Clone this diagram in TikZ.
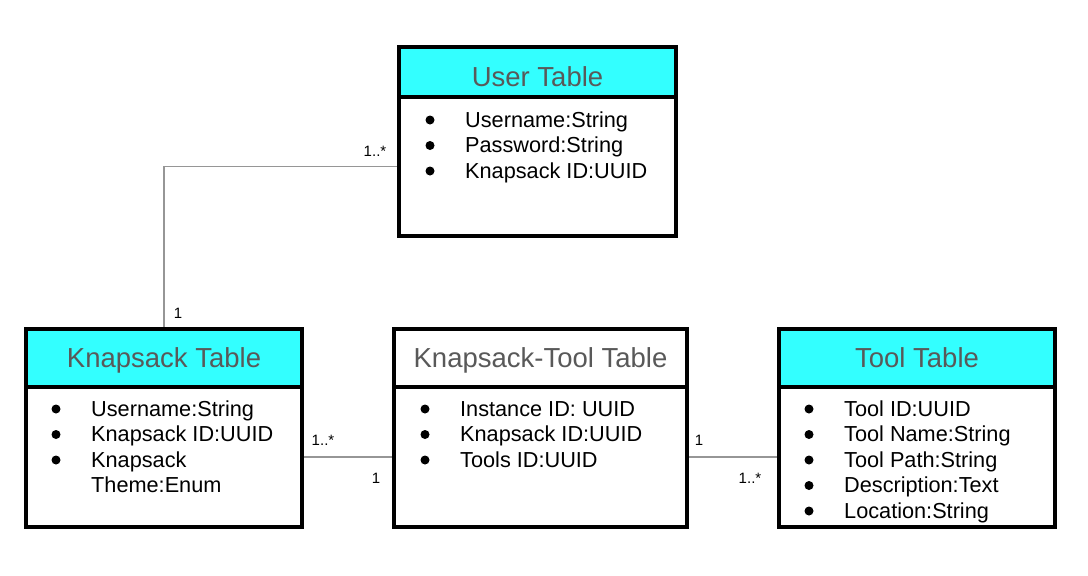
\documentclass[tikz,border=0pt]{standalone}
\usepackage{fontspec}
\setmainfont{Liberation Sans}
\definecolor{cyanh}{RGB}{51,255,255}
\definecolor{hdrtext}{RGB}{89,89,89}
\definecolor{conngray}{RGB}{150,150,150}
\newcommand\itemfont{\fontsize{21.7}{25.5}\selectfont}
\begin{document}
\begin{tikzpicture}[x=1pt,y=-1pt,
  tbl/.style={draw, line width=4pt, anchor=north west, inner sep=0pt, fill=white},
  hdr/.style={tbl, fill=cyanh, text=hdrtext, font=\fontsize{27.5}{33}\selectfont, text height=19.7pt, text depth=0pt},
  hdrw/.style={hdr, fill=white},
  items/.style={anchor=base west, inner sep=0pt, font=\itemfont},
  conn/.style={draw=conngray, line width=1.5pt},
  mult/.style={inner sep=0pt, font=\fontsize{15}{18}\selectfont}]
\useasboundingbox (0,0) rectangle (1088,576);

% User table
\node[hdr, minimum width=277pt, minimum height=50pt] (userH) at (397,45) {\raisebox{-4.5pt}{User Table}};
\node[tbl, minimum width=277pt, minimum height=139pt] (userB) at (397,95) {};
\node[items] (userI) at (465,127) {\begin{tabular}[t]{@{}l@{}}Username:String\\ Password:String\\ Knapsack ID:UUID\end{tabular}};
\foreach \y in {0,1,2} \fill (430,120+25.5*\y) circle (4.5pt);

% Knapsack table
\node[hdr, minimum width=276pt, minimum height=58pt] (knapH) at (24,327) {Knapsack Table};
\node[tbl, minimum width=276pt, minimum height=140pt] (knapB) at (24,385) {};
\node[items] (knapI) at (91,416) {\begin{tabular}[t]{@{}l@{}}Username:String\\ Knapsack ID:UUID\\ Knapsack\\ Theme:Enum\end{tabular}};
\foreach \y in {0,1,2} \fill (56,409+25.5*\y) circle (4.5pt);

% Knapsack-Tool table
\node[hdrw, minimum width=293pt, minimum height=58pt] (ktH) at (392,327) {Knapsack-Tool Table};
\node[tbl, minimum width=293pt, minimum height=140pt] (ktB) at (392,385) {};
\node[items] (ktI) at (460,416) {\begin{tabular}[t]{@{}l@{}}Instance ID: UUID\\ Knapsack ID:UUID\\ Tools ID:UUID\end{tabular}};
\foreach \y in {0,1,2} \fill (425,409+25.5*\y) circle (4.5pt);

% Tool table
\node[hdr, minimum width=276pt, minimum height=58pt] (toolH) at (777,327) {Tool Table};
\node[tbl, minimum width=276pt, minimum height=140pt] (toolB) at (777,385) {};
\node[items] (toolI) at (844,416) {\begin{tabular}[t]{@{}l@{}}Tool ID:UUID\\ Tool Name:String\\ Tool Path:String\\ Description:Text\\ Location:String\end{tabular}};
\foreach \y in {0,1,2,3,4} \fill (809,409+25.5*\y) circle (4.5pt);

% Connectors
\draw[conn] (userB.west) -| (knapH.north);
\draw[conn] (knapB.east) -- (ktB.west);
\draw[conn] (ktB.east) -- (toolB.west);

% Multiplicities
\node[mult] (m1) at (375,151) {1..*};
\node[mult] (m2) at (178,313) {1};
\node[mult] (m3) at (323,440) {1..*};
\node[mult] (m4) at (376,478) {1};
\node[mult] (m5) at (699,440) {1};
\node[mult] (m6) at (750,478) {1..*};
\end{tikzpicture}
\end{document}
